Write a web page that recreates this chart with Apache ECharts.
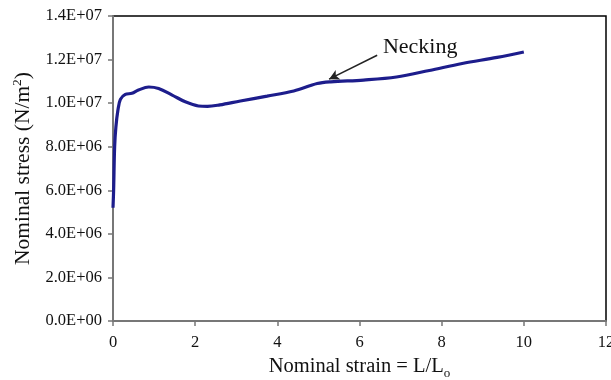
<!DOCTYPE html>
<html>
<head>
<meta charset="utf-8">
<script src="https://cdn.jsdelivr.net/npm/echarts@6/dist/echarts.min.js"></script>
<style>
html,body{margin:0;padding:0;background:#fff;}
#chart{width:611px;height:380px;}
</style>
</head>
<body>
<div id="chart"></div>
<script>
// Nominal strain (L/Lo)
var strain = [0, 0.015, 0.04, 0.07, 0.12, 0.18, 0.3, 0.46, 0.62, 0.87, 1.11, 1.44, 1.76, 2.08, 2.3, 2.6, 3.1, 3.75, 4.4, 4.97, 5.3, 6.1, 6.9, 7.7, 8.5, 9.35, 10.0];
// Nominal stress (N/m^2)
var stress = [5.2e6, 6.0e6, 8.0e6, 8.9e6, 9.68e6, 10.17e6, 10.4e6, 10.45e6, 10.6e6, 10.74e6, 10.67e6, 10.37e6, 10.06e6, 9.87e6, 9.85e6, 9.92e6, 10.1e6, 10.32e6, 10.56e6, 10.9e6, 10.98e6, 11.06e6, 11.2e6, 11.5e6, 11.82e6, 12.1e6, 12.35e6];
var xTickLabels = ['0', '2', '4', '6', '8', '10', '12'];
var yTickLabels = ['0.0E+00', '2.0E+06', '4.0E+06', '6.0E+06', '8.0E+06', '1.0E+07', '1.2E+07', '1.4E+07'];
var annotationText = 'Necking';
var arrowTail = [6.43, 12.2e6];
var arrowTip = [5.26, 11.1e6];
var textAnchor = [6.57, 12.57e6];

var font = '"Liberation Serif", "Times New Roman", serif';
var points = strain.map(function (x, i) { return [x, stress[i]]; });

var chart = echarts.init(document.getElementById('chart'), null, {renderer: 'canvas'});
chart.setOption({
  animation: false,
  backgroundColor: '#fff',
  grid: {left: 113, right: 5, top: 16, bottom: 59, containLabel: false, outerBoundsMode: 'none',
    show: true, borderColor: '#000', borderWidth: 1.5, backgroundColor: 'transparent'},
  xAxis: {
    type: 'value', min: 0, max: 12, interval: 2,
    name: 'Nominal strain = L/L{sub|o}',
    nameLocation: 'middle', nameGap: 33,
    nameTextStyle: {fontFamily: font, fontSize: 20.5, color: '#111',
      rich: {sub: {fontFamily: font, fontSize: 13, color: '#111', verticalAlign: 'bottom', padding: [13, 0, 0, 0]}}},
    axisLine: {show: true, lineStyle: {color: '#777', width: 2}},
    axisTick: {show: true, inside: false, length: 5, lineStyle: {color: '#777', width: 1.5}},
    axisLabel: {fontFamily: font, fontSize: 16.5, color: '#111', margin: 13,
      formatter: function (v) { return xTickLabels[Math.round(v / 2)]; }},
    splitLine: {show: false}
  },
  yAxis: {
    type: 'value', min: 0, max: 1.4e7, interval: 2e6,
    name: 'Nominal stress (N/m{sup|2})',
    nameLocation: 'middle', nameGap: 75, nameRotate: 90,
    nameTextStyle: {fontFamily: font, fontSize: 21.5, color: '#111',
      rich: {sup: {fontFamily: font, fontSize: 13.5, color: '#111', verticalAlign: 'top', padding: [0, 0, 12, 0]}}},
    axisLine: {show: true, lineStyle: {color: '#777', width: 2}},
    axisTick: {show: true, inside: false, length: 5, lineStyle: {color: '#777', width: 1.5}},
    axisLabel: {fontFamily: font, fontSize: 16.5, color: '#111', margin: 11,
      formatter: function (v) { return yTickLabels[Math.round(v / 2e6)]; }},
    splitLine: {show: false}
  },
  series: [{
    type: 'line',
    data: points,
    smooth: 0.35,
    showSymbol: false,
    lineStyle: {color: '#1d1d8c', width: 3.2},
    markLine: {
      silent: true,
      symbol: ['none', 'arrow'],
      symbolSize: [8, 10],
      label: {show: false},
      lineStyle: {color: '#222', width: 1.5, type: 'solid'},
      data: [[{coord: arrowTail}, {coord: arrowTip}]]
    },
    markPoint: {
      silent: true,
      symbol: 'circle', symbolSize: 0,
      label: {show: true, position: 'right', distance: 0, formatter: annotationText,
        fontFamily: font, fontSize: 22, color: '#111'},
      data: [{coord: textAnchor}]
    }
  }]
});
</script>
</body>
</html>
